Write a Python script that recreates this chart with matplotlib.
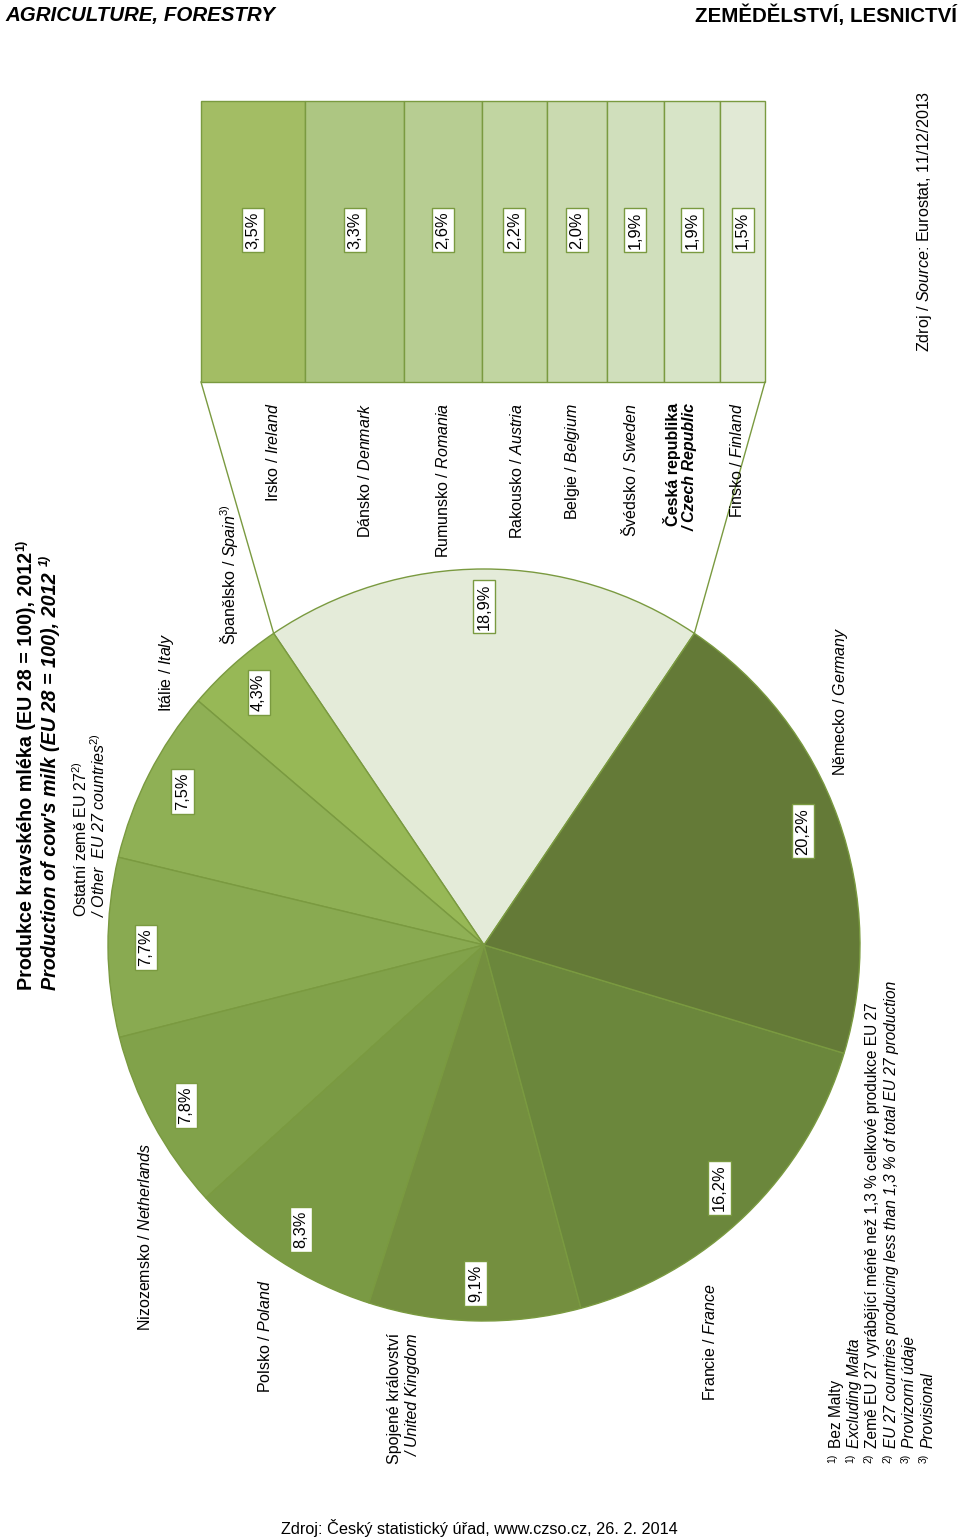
import numpy as np
import matplotlib.pyplot as plt

W, H = 960, 1539

plt.rcParams['font.family'] = ['Liberation Sans', 'DejaVu Sans']
plt.rcParams['mathtext.fontset'] = 'custom'
plt.rcParams['mathtext.rm'] = 'Liberation Sans'
plt.rcParams['mathtext.it'] = 'Liberation Sans:italic'
plt.rcParams['mathtext.bf'] = 'Liberation Sans:bold'

# pie slices, EU 28 = 100 (first slice = sum of the bar countries)
pie_names = ['Španělsko / $\\mathit{Spain}$$^{3)}$', 'Itálie / $\\mathit{Italy}$', 'Ostatní země EU 27',
             'Nizozemsko / $\\mathit{Netherlands}$', 'Polsko / $\\mathit{Poland}$',
             'Spojené království', 'Francie / $\\mathit{France}$', 'Německo / $\\mathit{Germany}$']
pie_values = [4.3, 7.5, 7.7, 7.8, 8.3, 9.1, 16.2, 20.2]
pie_colors = ['#97b856', '#8fb055', '#89aa51', '#81a24a', '#7a9a44', '#748f3f', '#6b873c', '#647a37']

# countries in the stacked bar
bar_names = ['Irsko / $\\mathit{Ireland}$', 'Dánsko / $\\mathit{Denmark}$', 'Rumunsko / $\\mathit{Romania}$',
             'Rakousko / $\\mathit{Austria}$', 'Belgie / $\\mathit{Belgium}$', 'Švédsko / $\\mathit{Sweden}$',
             'Česká republika', 'Finsko / $\\mathit{Finland}$']
bar_values = [3.5, 3.3, 2.6, 2.2, 2.0, 1.9, 1.9, 1.5]
bar_colors = ['#a3bd64', '#adc682', '#b7cd92', '#c1d5a1', '#cadab0', '#d0dfbc', '#d7e4c7', '#e1e9d5']

EDGE = '#7a9a40'
REST_COLOR = '#e4ebd9'


def pct(p):
    return f'{p:.1f}'.replace('.', ',') + '%'


def Y(y):
    return H - y


fig = plt.figure(figsize=(W / 100, H / 100), dpi=100)
ax = fig.add_axes([0, 0, 1, 1])

cx, cy, r = 484, Y(945), 376
rest = round(sum(bar_values), 1)
values = [rest] + pie_values
colors = [REST_COLOR] + pie_colors
start = 90 - rest / sum(values) * 180

wedges, texts, autotexts = ax.pie(
    values, colors=colors, startangle=start, counterclock=True,
    center=(cx, cy), radius=r, autopct=pct, pctdistance=0.9,
    wedgeprops=dict(edgecolor=EDGE, linewidth=1),
    textprops=dict(fontsize=11.8, color='black'))
for t in autotexts:
    t.set_rotation(90)
    t.set_bbox(dict(boxstyle='square,pad=0.22', fc='white', ec=EDGE, lw=1))

# data units = pixels from here on
ax.set_xlim(0, W)
ax.set_ylim(0, H)
ax.set_aspect('equal')
ax.set_axis_off()

# stacked bar with the smaller countries
scale = (765 - 201) / rest
widths = scale * np.array(bar_values)
lefts = 201 + np.concatenate([[0], np.cumsum(widths)[:-1]])
y0, y1 = Y(382), Y(101)
ax.barh((y0 + y1) / 2, widths, left=lefts, height=y1 - y0,
        color=bar_colors, edgecolor=EDGE, linewidth=1)
for lft, wd, v in zip(lefts, widths, bar_values):
    ax.text(lft + wd / 2, Y(230), pct(v), rotation=90, ha='center', va='center', fontsize=11.8,
            bbox=dict(boxstyle='square,pad=0.22', fc='white', ec=EDGE, lw=1))

# connector lines from bar to the pie slice
w0 = wedges[0]
for ang, xb in [(w0.theta2, lefts[0]), (w0.theta1, lefts[-1] + widths[-1])]:
    px = cx + r * np.cos(np.radians(ang))
    py = cy + r * np.sin(np.radians(ang))
    ax.plot([xb, px], [y0, py], color=EDGE, lw=1)

# labels of bar countries (end of text near the bar)
bar_lab_x = [273, 365, 443, 517, 572, 630, 672, 737]
for x, name in zip(bar_lab_x, bar_names):
    kw = dict(rotation=90, rotation_mode='anchor', ha='right', va='center', fontsize=11.5)
    if name == 'Česká republika':
        ax.text(x, Y(403), name, fontweight='bold', **kw)
        ax.text(x + 18, Y(403), '/ Czech Republic', fontweight='bold', fontstyle='italic', **kw)
    else:
        ax.text(x, Y(403), name, **kw)

# labels of pie slices
lab = dict(rotation=90, rotation_mode='anchor', va='center', fontsize=11.5)
ax.text(229, Y(575), pie_names[0], ha='center', **lab)
ax.text(166, Y(672), pie_names[1], ha='center', **lab)
ax.text(81, Y(917), pie_names[2] + '$^{2)}$', ha='left', **lab)
ax.text(99, Y(917), '/ Other  EU 27 countries$^{2)}$', ha='left', fontstyle='italic', **lab)
ax.text(145, Y(1237), pie_names[3], ha='center', **lab)
ax.text(265, Y(1336), pie_names[4], ha='center', **lab)
ax.text(395, Y(1333), pie_names[5], ha='right', **lab)
ax.text(413, Y(1333), '/ United Kingdom', ha='right', fontstyle='italic', **lab)
ax.text(710, Y(1342), pie_names[6], ha='center', **lab)
ax.text(840, Y(701), pie_names[7], ha='center', **lab)

# title, with the footnote mark as a separate small text after each line
renderer = fig.canvas.get_renderer()
ttl = dict(rotation=90, rotation_mode='anchor', ha='left', va='center', fontsize=14.2, fontweight='bold')
for x, s, st, gap in [(27, 'Produkce kravského mléka (EU 28 = 100), 2012', 'normal', 1),
                      (51, "Production of cow's milk (EU 28 = 100), 2012", 'italic', 6)]:
    t = ax.text(x, Y(990), s, fontstyle=st, **ttl)
    end = t.get_window_extent(renderer).y1
    ax.text(x - 6, end + gap, '1)', rotation=90, rotation_mode='anchor', ha='left', va='center',
            fontsize=9, fontweight='bold', fontstyle=st)

# footnotes: small marker + text
notes = [('1)', 'Bez Malty', 'normal'),
         ('1)', 'Excluding Malta', 'italic'),
         ('2)', 'Země EU 27 vyrábějící méně než 1,3 % celkové produkce EU 27', 'normal'),
         ('2)', 'EU 27 countries producing less than 1,3 % of total EU 27 production', 'italic'),
         ('3)', 'Provizorní údaje', 'italic'),
         ('3)', 'Provisional', 'italic')]
for i, (mk, s, st) in enumerate(notes):
    x = 836 + i * 18.4
    ax.text(x - 4, Y(1463), mk, rotation=90, rotation_mode='anchor',
            ha='left', va='center', fontsize=7.5)
    ax.text(x, Y(1448), s, fontstyle=st, rotation=90, rotation_mode='anchor',
            ha='left', va='center', fontsize=11.2)

ax.text(925, Y(352), 'Zdroj / $\\mathit{Source}$: Eurostat, 11/12/2013', rotation=90,
        rotation_mode='anchor', ha='left', va='center', fontsize=11.6)

# page header and footer
ax.text(5, Y(15), 'AGRICULTURE, FORESTRY', ha='left', va='center', fontsize=14.8,
        fontweight='bold', fontstyle='italic')
ax.text(957, Y(15), 'ZEMĚDĚLSTVÍ, LESNICTVÍ', ha='right', va='center', fontsize=14.8,
        fontweight='bold')
ax.text(479, Y(1528), 'Zdroj: Český statistický úřad, www.czso.cz, 26. 2. 2014',
        ha='center', va='center', fontsize=11.7)

fig.savefig('out.png', dpi=100)
